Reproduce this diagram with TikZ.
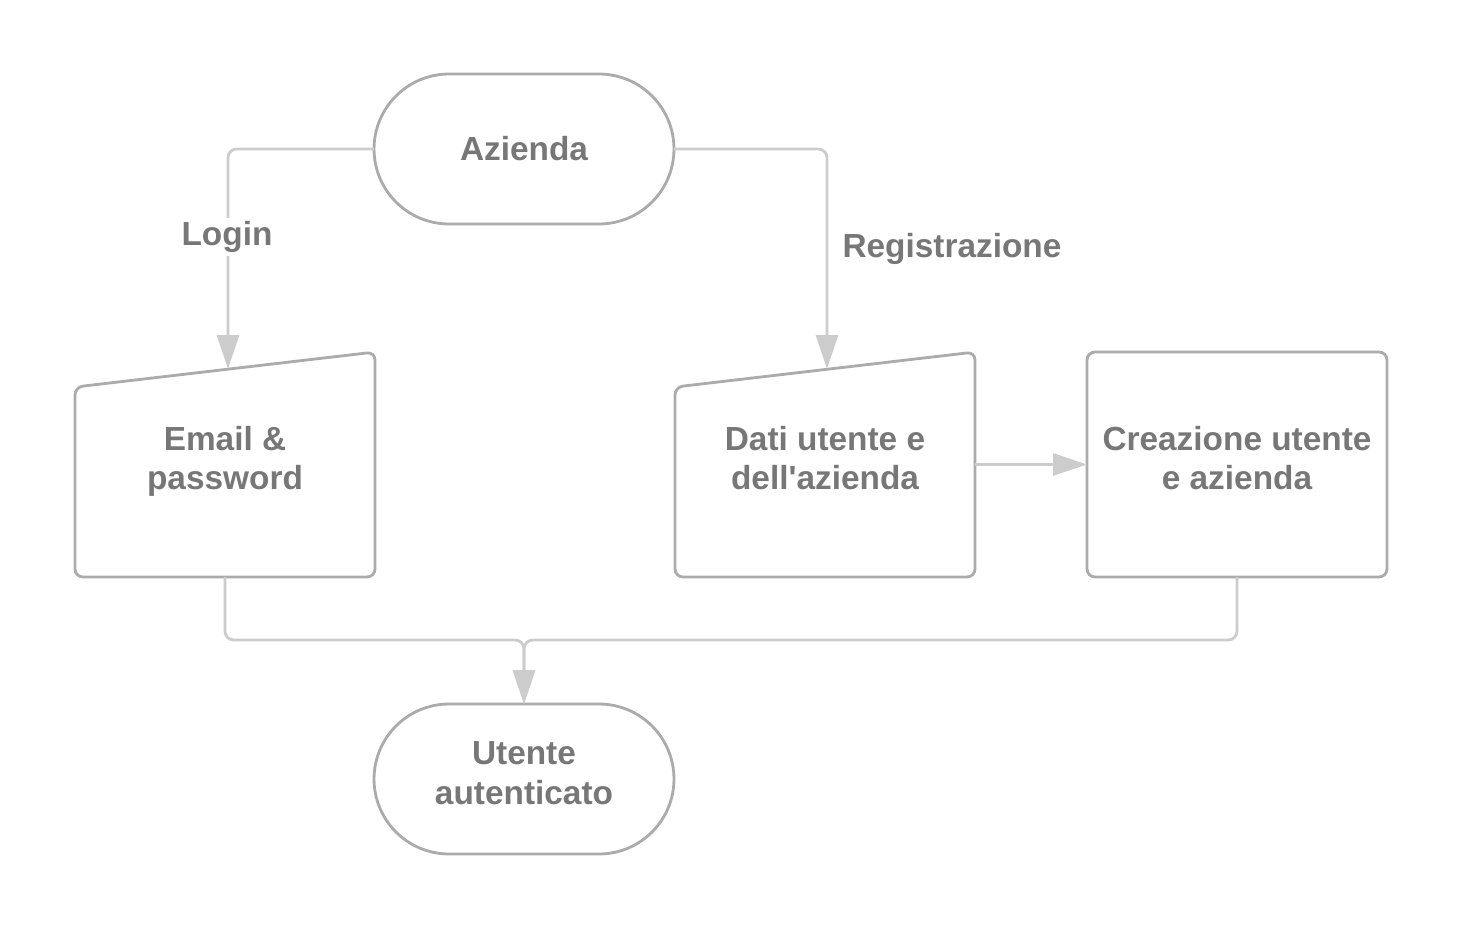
\documentclass[tikz,border=0pt]{standalone}
\usepackage{fontspec}
\setmainfont{Liberation Sans}
\usetikzlibrary{arrows.meta,positioning}
\definecolor{edge}{HTML}{ABABAB}
\definecolor{link}{HTML}{CCCCCC}
\definecolor{txt}{HTML}{777777}
\newcommand{\topstrut}{\rule{0pt}{14.8pt}}
\newcommand{\botstrut}{\rule[-8.5pt]{0pt}{8.5pt}}
\tikzset{
 box/.style={draw=edge, line width=1.6pt, rounded corners=4.5pt, minimum width=6cm, minimum height=4.5cm, inner sep=0pt, outer sep=0pt, align=center, text=txt, font=\bfseries\fontsize{19}{22.7}\selectfont},
 term/.style={box, rounded corners=1.5cm, minimum height=3cm},
 inbox/.style={box, draw=none},
 conn/.style={draw=link, line width=1.6pt, rounded corners=5pt, -{Triangle[length=0.68cm,width=0.44cm]}},
 lab/.style={text=txt, font=\bfseries\fontsize{19}{22.7}\selectfont, inner sep=2pt}
}
\begin{document}
\begin{tikzpicture}[x=0.02cm,y=-0.02cm]
\useasboundingbox (0,0) rectangle (1463,930);
\node[term] (az) at (524,149) {Azienda};
\node[inbox] (em) at (225,464.5) {\topstrut Email \&\\password\botstrut};
\node[inbox] (dati) at (825,464.5) {\topstrut Dati utente e\\dell\textquotesingle azienda\botstrut};
\node[box] (crea) at (1237,464.5) {\topstrut Creazione utente\\e azienda\botstrut};
\node[term] (ut) at (524,779) {\topstrut Utente\\autenticato\botstrut};
\draw[draw=edge, line width=1.6pt, rounded corners=4.5pt] ([yshift=-0.7cm]em.north west) -- (em.north east) -- (em.south east) -- (em.south west) -- cycle;
\draw[draw=edge, line width=1.6pt, rounded corners=4.5pt] ([yshift=-0.7cm]dati.north west) -- (dati.north east) -- (dati.south east) -- (dati.south west) -- cycle;
\coordinate (emin) at (228,369);
\coordinate (datin) at (827,369);
\coordinate (join) at (524,640);
\draw[conn] (az.west) -| (emin);
\draw[conn] (az.east) -| (datin);
\draw[conn] (dati.east) -- (crea.west);
\draw[conn] (em.south) |- (join) -- (ut.north);
\draw[conn] (crea.south) |- (join) -- (ut.north);
\node[lab, fill=white] (login) at (227,237) {Login};
\node[lab] (reg) at (952,249) {Registrazione};
\end{tikzpicture}
\end{document}
